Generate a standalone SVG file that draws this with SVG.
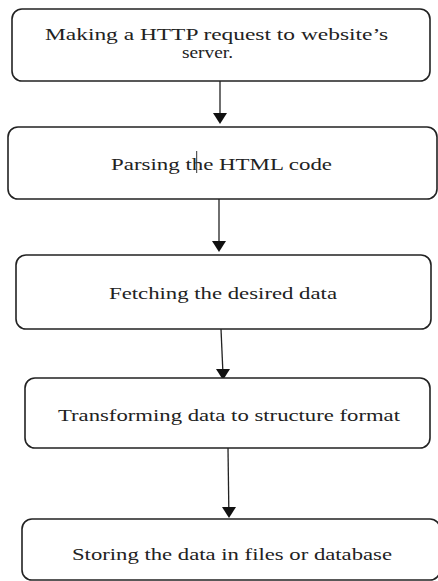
<svg xmlns="http://www.w3.org/2000/svg" width="438" height="581" viewBox="0 0 438 581">
<style>
.box{fill:#fff;stroke:#222;stroke-width:1.6}
.t{font-family:"Liberation Serif","Times New Roman",serif;font-size:17.5px;fill:#222}
.t2{font-size:16px}
.c{stroke:#222;stroke-width:1.3;fill:none}
.h{fill:#111}
</style>
<rect width="438" height="581" fill="#fff"/>
<g id="connectors">
<line class="c" x1="220" y1="81" x2="220" y2="114"/>
<line class="c" x1="219" y1="199" x2="219" y2="242"/>
<line class="c" x1="221" y1="329" x2="222.8" y2="370"/>
<line class="c" x1="228" y1="448" x2="228.8" y2="508"/>
<path class="h" d="M213,113 L227,113 L220,124 Z"/>
<path class="h" d="M212,241 L226,241 L219,252 Z"/>
<path class="h" d="M216,369 L230,369 L223,380 Z"/>
<path class="h" d="M222,507 L236,507 L229,518 Z"/>
</g>
<g id="node1">
<rect class="box" x="12" y="9" width="418" height="72" rx="10"/>
<text class="t t2" x="45" y="40" textLength="343" lengthAdjust="spacingAndGlyphs">Making a HTTP request to website’s</text>
<text class="t t2" x="182" y="58" textLength="51" lengthAdjust="spacingAndGlyphs">server.</text>
</g>
<g id="node2">
<rect class="box" x="8" y="127" width="429" height="72" rx="10"/>
<text class="t" x="111" y="170" textLength="221" lengthAdjust="spacingAndGlyphs">Parsing the HTML code</text>
<line x1="196.7" y1="151" x2="196.7" y2="173" stroke="#333" stroke-width="1"/>
</g>
<g id="node3">
<rect class="box" x="16" y="255" width="415" height="74" rx="10"/>
<text class="t" x="109" y="299" textLength="228" lengthAdjust="spacingAndGlyphs">Fetching the desired data</text>
</g>
<g id="node4">
<rect class="box" x="25" y="378" width="405" height="70" rx="10"/>
<text class="t" x="58" y="421" textLength="342" lengthAdjust="spacingAndGlyphs">Transforming data to structure format</text>
</g>
<g id="node5">
<rect class="box" x="22" y="519" width="418" height="61" rx="10"/>
<text class="t" x="72" y="560" textLength="320" lengthAdjust="spacingAndGlyphs">Storing the data in files or database</text>
</g>
</svg>
